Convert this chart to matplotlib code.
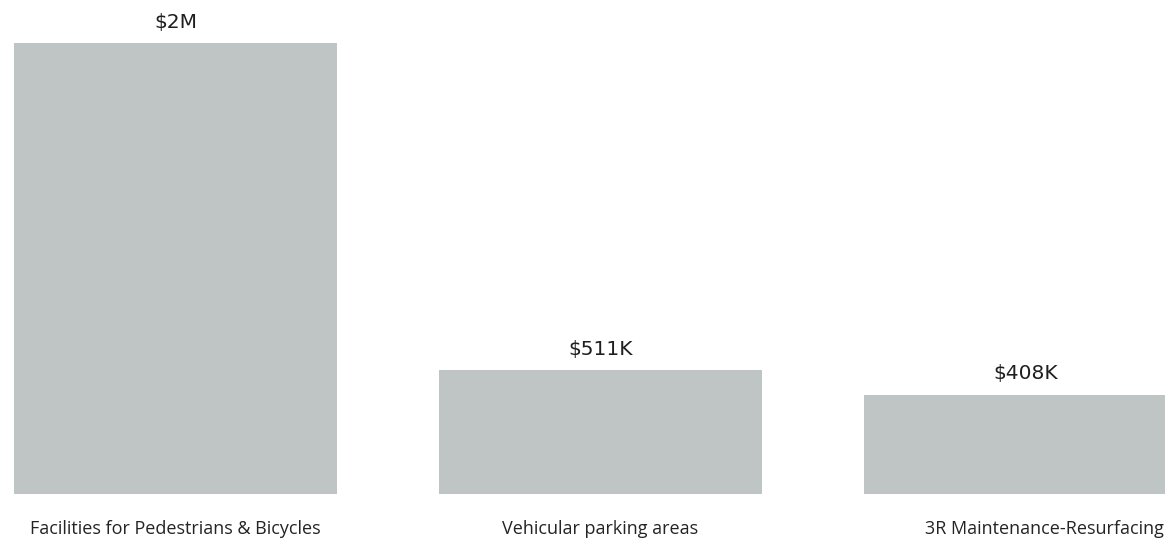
import matplotlib
matplotlib.use("Agg")
import matplotlib.pyplot as plt

categories = ["Facilities for Pedestrians & Bicycles", "Vehicular parking areas", "3R Maintenance-Resurfacing"]
values = [1858000, 511000, 408000]
value_labels = ["$2M", "$511K", "$408K"]

W, H, DPI = 1165, 540, 100
fig = plt.figure(figsize=(W / DPI, H / DPI), dpi=DPI)
bottom_px = 494
ax = fig.add_axes([0, (H - bottom_px) / H, 1, bottom_px / H])

pitch = 425.0
bw = 0.76
left = -bw / 2 - 14 / pitch
ax.set_xlim(left, left + W / pitch)
px_per_unit = 124 / 511000
ax.set_ylim(0, bottom_px / px_per_unit)

xs = list(range(len(categories)))
ax.bar(xs, values, width=bw, color="#bfc4c4")

pt = 72 / DPI
for x, v, lab in zip(xs, values, value_labels):
    ax.annotate(lab, (x, v), xytext=(0, 15.5 * pt), textcoords="offset points",
                ha="center", va="baseline", fontsize=14.5, color="#1f1f1f",
                family="DejaVu Sans", annotation_clip=False)

for i, (x, c) in enumerate(zip(xs, categories)):
    if i == 2:
        ax.annotate(c, (1, 0), xycoords="axes fraction", xytext=(-1 * pt, -40 * pt),
                    textcoords="offset points", ha="right", va="baseline",
                    fontsize=13, color="#252423", family="Open Sans", annotation_clip=False)
    else:
        ax.annotate(c, (x, 0), xytext=(0, -40 * pt), textcoords="offset points",
                    ha="center", va="baseline", fontsize=13, color="#252423",
                    family="Open Sans", annotation_clip=False)

ax.axis("off")
fig.savefig("out.png", dpi=DPI)
